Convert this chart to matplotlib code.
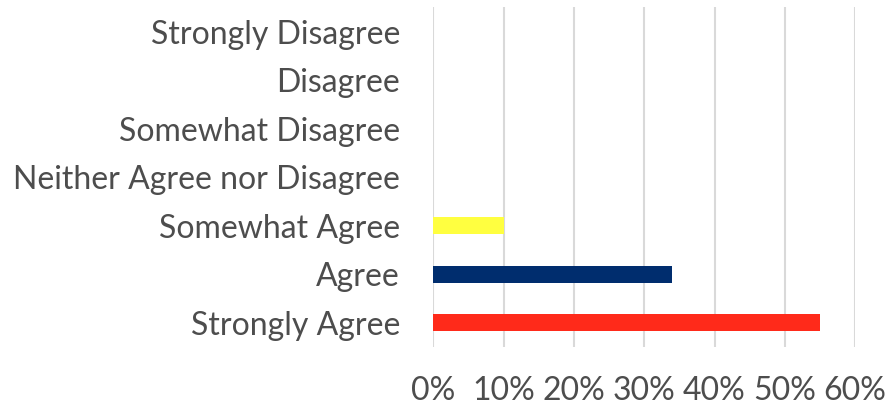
import matplotlib
matplotlib.use('Agg')
import matplotlib.pyplot as plt
from matplotlib.ticker import PercentFormatter

categories = ['Strongly Agree', 'Agree', 'Somewhat Agree', 'Neither Agree nor Disagree',
              'Somewhat Disagree', 'Disagree', 'Strongly Disagree']
values = [0.55, 0.34, 0.10, 0, 0, 0, 0]
colors = ['#ff2a1a', '#002d6e', '#ffff40', '#888888', '#888888', '#888888', '#888888']
ticks = [0, 0.1, 0.2, 0.3, 0.4, 0.5, 0.6]

plt.rcParams['font.family'] = ['Lato', 'DejaVu Sans']

fig = plt.figure(figsize=(8.88, 4.07), dpi=100)
ax = fig.add_axes([0.488, 0.147, 0.475, 0.835])

ax.barh(range(len(categories)), values, height=0.35, color=colors, zorder=3)
ax.set_yticks(range(len(categories)))
ax.set_yticklabels(categories)
ax.set_ylim(-0.5, 6.5)
ax.set_xlim(0, 0.6)
ax.set_xticks(ticks)
ax.xaxis.set_major_formatter(PercentFormatter(1.0, decimals=0))
ax.grid(axis='x', color='#d9d9d9', linewidth=1.5, zorder=0)
ax.grid(axis='y', visible=False)
for s in ax.spines.values():
    s.set_visible(False)
ax.tick_params(axis='both', length=0, labelsize=23, labelcolor='#4d4d4d')
ax.tick_params(axis='x', pad=21)
ax.tick_params(axis='y', pad=24)

fig.savefig('out.png', dpi=100)
